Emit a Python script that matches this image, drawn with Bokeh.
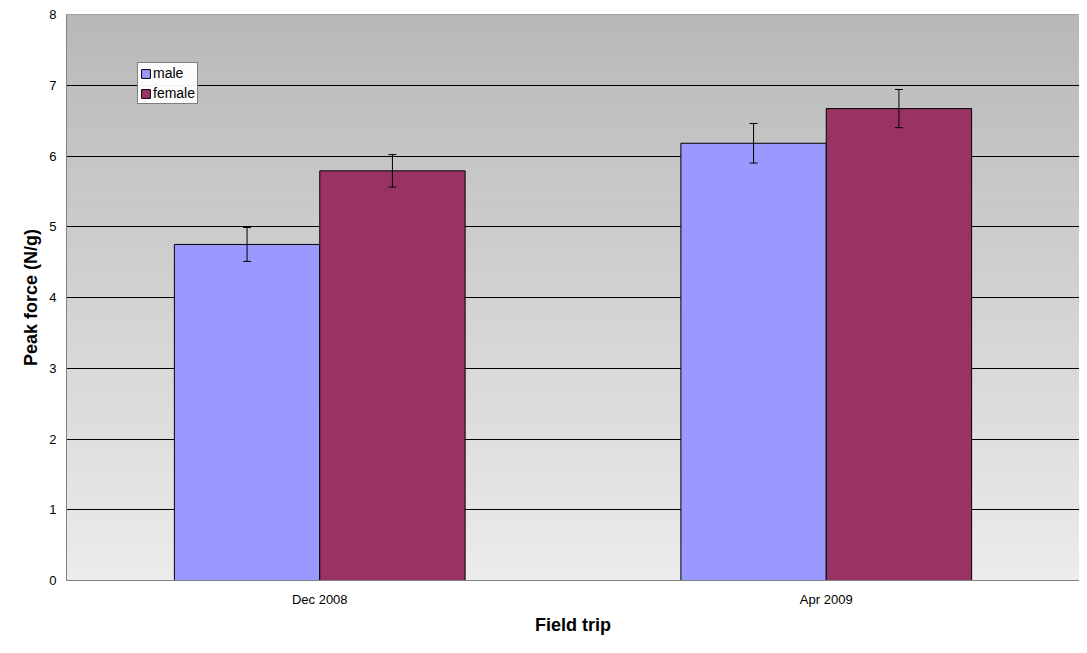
from bokeh.plotting import figure
from bokeh.models import ColumnDataSource, FixedTicker, Whisker, Legend, LegendItem
from bokeh.embed import file_html
from bokeh.resources import INLINE

trips = ["Dec 2008", "Apr 2009"]
male = [4.75, 6.18]
male_err = [0.24, 0.28]
female = [5.79, 6.67]
female_err = [0.23, 0.27]

centers = [i + 0.5 for i in range(len(trips))]
bw = 0.287

p = figure(width=1079, height=637, x_range=(0, 2), y_range=(0, 8),
           output_backend="svg", toolbar_location=None,
           min_border_left=66, min_border_right=0, min_border_top=14, min_border_bottom=57)
p.background_fill_color = "white"
p.border_fill_color = "white"
p.outline_line_color = "#808080"

# gradient plot area background
n = 80
tops = [8 * (k + 1) / n for k in range(n)]
bots = [8 * k / n for k in range(n)]
cols = []
for k in range(n):
    t = (k + 0.5) / n
    g = int(round(0xec + (0xb8 - 0xec) * t))
    cols.append("#%02x%02x%02x" % (g, g, g))
p.quad(left=0, right=2, bottom=bots, top=tops, fill_color=cols, line_color=cols, level="image")

p.xgrid.grid_line_color = None
p.ygrid.grid_line_color = "black"
p.ygrid.grid_line_alpha = 1
p.ygrid.level = "underlay"

src = ColumnDataSource(dict(
    xm=[c - bw / 2 for c in centers], xf=[c + bw / 2 for c in centers],
    male=male, female=female,
    ml=[v - e for v, e in zip(male, male_err)], mu=[v + e for v, e in zip(male, male_err)],
    fl=[v - e for v, e in zip(female, female_err)], fu=[v + e for v, e in zip(female, female_err)],
))
rm = p.vbar(x="xm", top="male", width=bw, source=src, fill_color="#9999ff", line_color="black")
rf = p.vbar(x="xf", top="female", width=bw, source=src, fill_color="#993366", line_color="black")
for lo, up, xx in (("ml", "mu", "xm"), ("fl", "fu", "xf")):
    w = Whisker(base=xx, lower=lo, upper=up, source=src, line_color="black", level="overlay")
    w.upper_head.size = 8
    w.lower_head.size = 8
    w.upper_head.line_color = "black"
    w.lower_head.line_color = "black"
    p.add_layout(w)

p.xaxis.ticker = FixedTicker(ticks=centers, minor_ticks=[0, 1, 2])
p.xaxis.major_label_overrides = {c: t for c, t in zip(centers, trips)}
p.xaxis.minor_tick_out = 5
p.xaxis.minor_tick_in = 0
p.yaxis.ticker = FixedTicker(ticks=list(range(9)))
p.yaxis.major_tick_in = 0
p.yaxis.major_tick_out = 5
for ax in (p.xaxis, p.yaxis):
    ax.axis_line_color = "#808080"
    ax.major_tick_line_color = "#808080" if ax is p.yaxis else None
    ax.minor_tick_line_color = "#808080" if ax is p.xaxis else None
    ax.major_label_text_font = "Liberation Sans"
    ax.major_label_text_font_size = "13px"
    ax.major_label_text_color = "black"
    ax.axis_label_text_font = "Liberation Sans"
    ax.axis_label_text_font_style = "bold"
    ax.axis_label_text_font_size = "18px"
    ax.axis_label_text_color = "black"
p.xaxis.axis_label = "Field trip"
p.yaxis.axis_label = "Peak force (N/g)"

leg = Legend(items=[LegendItem(label="male", renderers=[rm]), LegendItem(label="female", renderers=[rf])],
             border_line_color="black", background_fill_color="white",
             label_text_font="Liberation Sans", label_text_font_size="14px", label_text_color="black",
             glyph_width=11, glyph_height=11, label_height=16, spacing=4, padding=2, margin=0,
             label_standoff=2)
leg.location = (71, 637 - 14 - 57 - 42 - 48)
p.add_layout(leg)

open("out.html", "w").write(file_html(p, INLINE))
